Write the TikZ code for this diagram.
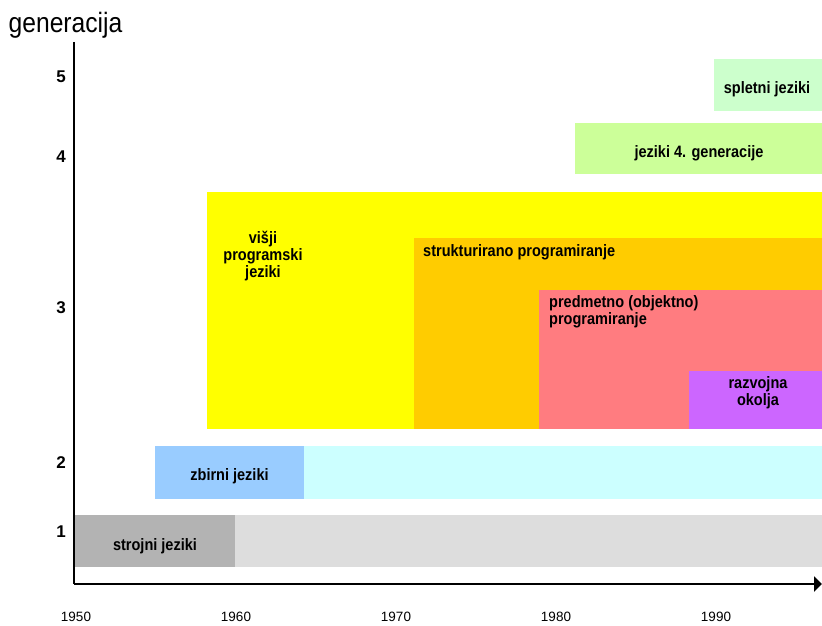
\documentclass[tikz,border=0pt]{standalone}
\usepackage{fontspec}
\setmainfont{Liberation Sans}[FakeStretch=0.88]
\newfontfamily\yearfont{Liberation Sans}
\usetikzlibrary{arrows.meta}
\definecolor{strojgray}{HTML}{B3B3B3}
\definecolor{lightgray}{HTML}{DDDDDD}
\definecolor{zbirblue}{HTML}{99CCFF}
\definecolor{zbircyan}{HTML}{CCFFFF}
\definecolor{visjyellow}{HTML}{FFFF00}
\definecolor{strukorange}{HTML}{FFCC00}
\definecolor{predpink}{HTML}{FF7C80}
\definecolor{razvpurple}{HTML}{CC66FF}
\definecolor{genfgreen}{HTML}{CCFF99}
\definecolor{spletgreen}{HTML}{CCFFCC}
\tikzset{
  lbl/.style={font=\bfseries\fontsize{16.5}{17}\selectfont, inner sep=0pt, align=center, anchor=base},
  genlab/.style={font=\yearfont\bfseries\fontsize{17}{17}\selectfont, inner sep=0pt},
  yearlab/.style={font=\yearfont\fontsize{13.5}{14}\selectfont, inner sep=0pt, anchor=base},
  axisline/.style={draw=black, line width=1.6pt},
}

\begin{document}
\begin{tikzpicture}[x=1pt, y=-1pt]
  \useasboundingbox (0,0) rectangle (822,626);
  % generation bands
  \fill[lightgray] (74,515) rectangle (822,567);
  \fill[strojgray] (74,515) rectangle (235,567);
  \fill[zbircyan] (155,446) rectangle (822,499);
  \fill[zbirblue] (155,446) rectangle (304,499);
  \fill[visjyellow] (207,192) rectangle (822,429);
  \fill[strukorange] (414,238) rectangle (822,429);
  \fill[predpink] (539,290) rectangle (822,429);
  \fill[razvpurple] (689,371) rectangle (822,429);
  \fill[genfgreen] (575,123) rectangle (822,174);
  \fill[spletgreen] (714,59) rectangle (822,111);
  % band labels (base = last line)
  \node[lbl] (stroj) at (155,550.5) {strojni jeziki};
  \node[lbl] (zbir) at (229.5,480) {zbirni jeziki};
  \node[lbl] (visj) at (263,277) {višji\\programski\\jeziki};
  \node[lbl, anchor=base west, align=left] (struk) at (423,256.5) {strukturirano programiranje};
  \node[lbl, anchor=base west, align=left] (pred) at (549,324) {predmetno (objektno)\\programiranje};
  \node[lbl] (razv) at (758,405) {razvojna\\okolja};
  \node[lbl] (genf) at (699,157) {jeziki 4. generacije};
  \node[lbl] (splet) at (767,93.5) {spletni jeziki};
  % axes
  \coordinate (O) at (74,584);
  \coordinate (ytop) at (74,42);
  \coordinate (xend) at (822,584);
  \draw[axisline] (ytop) -- (O);
  \draw[axisline, line width=2.4pt, -{Triangle[length=8pt,width=15pt]}] (O) -- (xend);
  \node[font=\fontsize{28}{28}\selectfont, inner sep=0pt, anchor=base] (ytitle) at (65.5,33) {generacija};
  \foreach \g/\yy in {5/77,4/157,3/308,2/463,1/532}
    \node[genlab] (g\g) at (61,\yy) {\g};
  \foreach \yr [count=\i from 0] in {1950,1960,1970,1980,1990}
    \node[yearlab] (yr\yr) at ({76+160*\i},621.5) {\yr};
\end{tikzpicture}
\end{document}
